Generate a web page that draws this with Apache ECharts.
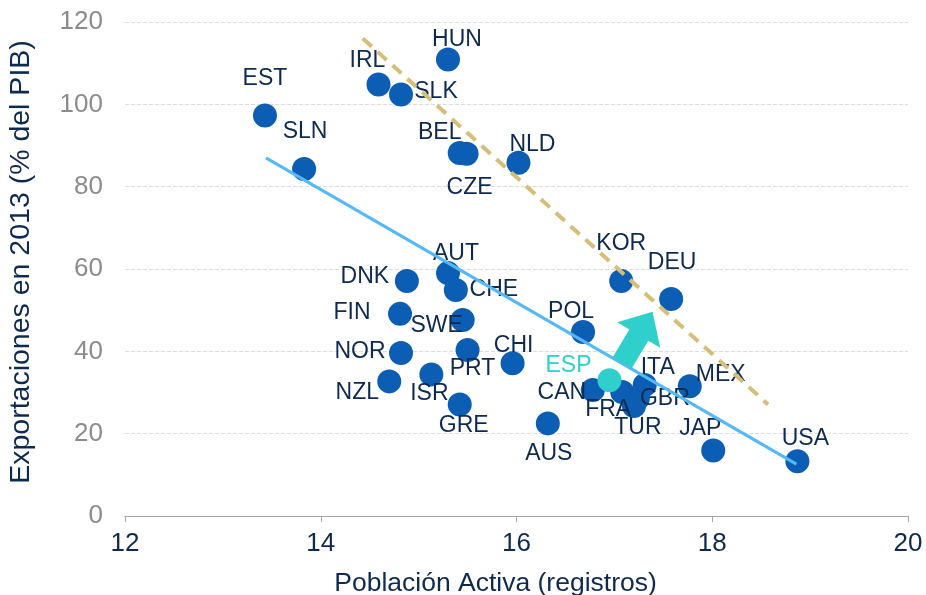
<!DOCTYPE html>
<html>
<head>
    <meta http-equiv="Content-Type" content="text/html; charset=utf-8">
    <title>Exportaciones vs Población Activa</title>
    <script src="https://cdn.jsdelivr.net/npm/echarts@6/dist/echarts.min.js"></script>
    <style>
        body {margin:0; background:#fff;}
    </style>
</head>
<body>
    <div id="main" style="width: 926px;height:595px;"></div>
    <script type="text/javascript">
        // datos
        var paises = ['EST','SLN','IRL','SLK','HUN','BEL','CZE','NLD','KOR','DEU','AUT','DNK','CHE','FIN','SWE','POL',
                      'CHI','NOR','PRT','ESP','NZL','ISR','GRE','CAN','FRA','ITA','GBR','TUR','MEX','AUS','JAP','USA'];
        var poblacion = [13.43,13.83,14.59,14.82,15.30,15.42,15.49,16.02,17.07,17.58,15.30,14.88,15.38,14.81,15.45,16.68,
                         15.96,14.82,15.50,16.95,14.70,15.13,15.42,16.78,17.08,17.31,17.24,17.20,17.77,16.32,18.01,18.87];
        var exportaciones = [97.3,84.3,104.8,102.4,110.9,88.2,88.0,85.8,57.1,52.7,59.0,57.1,54.9,49.1,47.6,44.7,
                             37.1,39.6,40.3,33.0,32.7,34.4,27.1,30.6,30.1,31.8,28.6,26.7,31.5,22.5,15.9,13.3];
        var tendencia = [[13.44, 87.0], [18.86, 12.6]];
        var frontera = [[14.43, 116.0], [18.57, 27.1]];
        var flecha = [[17.08, 37.2, 17.39, 49.6]];
        var xTicks = [12, 14, 16, 18, 20];
        var yTicks = [0, 20, 40, 60, 80, 100, 120];

        // posicion de las etiquetas (px, relativa al punto)
        var etiquetaOffset = {
            EST:[0,-37], SLN:[1,-37], IRL:[-11,-24], SLK:[35,-3], HUN:[9,-20], BEL:[-20,-20], CZE:[3,34],
            NLD:[14,-18], KOR:[0,-37], DEU:[1,-36], AUT:[8,-19], DNK:[-42,-4], CHE:[38,0], FIN:[-48,-1],
            SWE:[-26,6], POL:[-12,-20], CHI:[1,-18], NOR:[-41,-1], PRT:[5,19], ESP:[-41,-14], NZL:[-32,11],
            ISR:[-2,19], GRE:[4,21], CAN:[-31,3], FRA:[-14,18], ITA:[13,-17], GBR:[27,0], TUR:[4,22],
            MEX:[31,-12], AUS:[1,30], JAP:[-13,-22], USA:[8,-23]
        };

        var azul = '#0c5db4', turquesa = '#2fcfcb', texto = '#0e2a4f';
        var fuente = '"Liberation Sans", Arial, sans-serif';

        function puntos(filtro) {
            var out = [];
            for (var i = 0; i < paises.length; i++) {
                if (filtro(paises[i])) {
                    out.push({
                        name: paises[i],
                        value: [poblacion[i], exportaciones[i]],
                        label: {offset: etiquetaOffset[paises[i]]}
                    });
                }
            }
            return out;
        }

        var myChart = echarts.init(document.getElementById('main'));

        var option = {
            animation: false,
            textStyle: {fontFamily: fuente},
            grid: {left: 125, right: 18, top: 22, bottom: 79, containLabel: false, outerBoundsMode: 'none'},
            xAxis: {
                type: 'value', min: xTicks[0], max: xTicks[xTicks.length - 1], interval: 2,
                name: 'Población Activa (registros)', nameLocation: 'middle', nameGap: 54,
                nameTextStyle: {fontSize: 26.5, color: texto, fontFamily: fuente, padding: [0, 42, 0, 0]},
                axisLine: {lineStyle: {color: '#a6a6a6', width: 1}},
                axisTick: {show: true, length: 6, lineStyle: {color: '#a6a6a6'}},
                axisLabel: {fontSize: 26, color: texto, margin: 15, fontFamily: fuente},
                splitLine: {show: false}
            },
            yAxis: {
                type: 'value', min: yTicks[0], max: yTicks[yTicks.length - 1], interval: 20,
                name: 'Exportaciones en 2013 (% del PIB)', nameLocation: 'middle', nameGap: 89,
                nameTextStyle: {fontSize: 28.5, color: texto, fontFamily: fuente, padding: [0, 0, 0, 14]},
                axisLine: {show: false},
                axisTick: {show: false},
                axisLabel: {fontSize: 26, color: '#8c8c8c', margin: 22, fontFamily: fuente},
                splitLine: {lineStyle: {color: '#dcdcdc', type: 'dashed', width: 1}}
            },
            series: [
                {
                    type: 'scatter', symbolSize: 24, z: 2,
                    itemStyle: {color: azul, opacity: 1},
                    label: {show: true, position: 'inside', formatter: '{b}', fontSize: 23, color: texto, fontFamily: fuente},
                    data: puntos(function (p) { return p !== 'ESP'; })
                },
                {
                    type: 'scatter', symbolSize: 24, z: 3,
                    itemStyle: {color: turquesa, opacity: 1},
                    label: {show: true, position: 'inside', formatter: '{b}', fontSize: 23, color: turquesa, fontFamily: fuente},
                    data: puntos(function (p) { return p === 'ESP'; })
                },
                {
                    type: 'line', z: 4, symbol: 'none', silent: true,
                    lineStyle: {color: '#55b9f7', width: 3},
                    data: tendencia
                },
                {
                    type: 'line', z: 4, symbol: 'none', silent: true,
                    lineStyle: {color: '#d6bd78', width: 4, type: [12, 8]},
                    data: frontera
                },
                {
                    type: 'custom', z: 5, silent: true,
                    encode: {x: [0, 2], y: [1, 3]},
                    data: flecha,
                    renderItem: function (params, api) {
                        var a = api.coord([api.value(0), api.value(1)]);
                        var b = api.coord([api.value(2), api.value(3)]);
                        var dx = b[0] - a[0], dy = b[1] - a[1];
                        var len = Math.sqrt(dx * dx + dy * dy);
                        var ux = dx / len, uy = dy / len, nx = -uy, ny = ux;
                        var cuerpo = 11, cabeza = 25, largo = 27;
                        var bx = b[0] - ux * largo, by = b[1] - uy * largo;
                        return {
                            type: 'polygon',
                            shape: {points: [
                                [a[0] + nx * cuerpo, a[1] + ny * cuerpo],
                                [bx + nx * cuerpo, by + ny * cuerpo],
                                [bx + nx * cabeza, by + ny * cabeza],
                                [b[0], b[1]],
                                [bx - nx * cabeza, by - ny * cabeza],
                                [bx - nx * cuerpo, by - ny * cuerpo],
                                [a[0] - nx * cuerpo, a[1] - ny * cuerpo]
                            ]},
                            style: {fill: turquesa}
                        };
                    }
                }
            ]
        };

        myChart.setOption(option);
    </script>
</body>
</html>
